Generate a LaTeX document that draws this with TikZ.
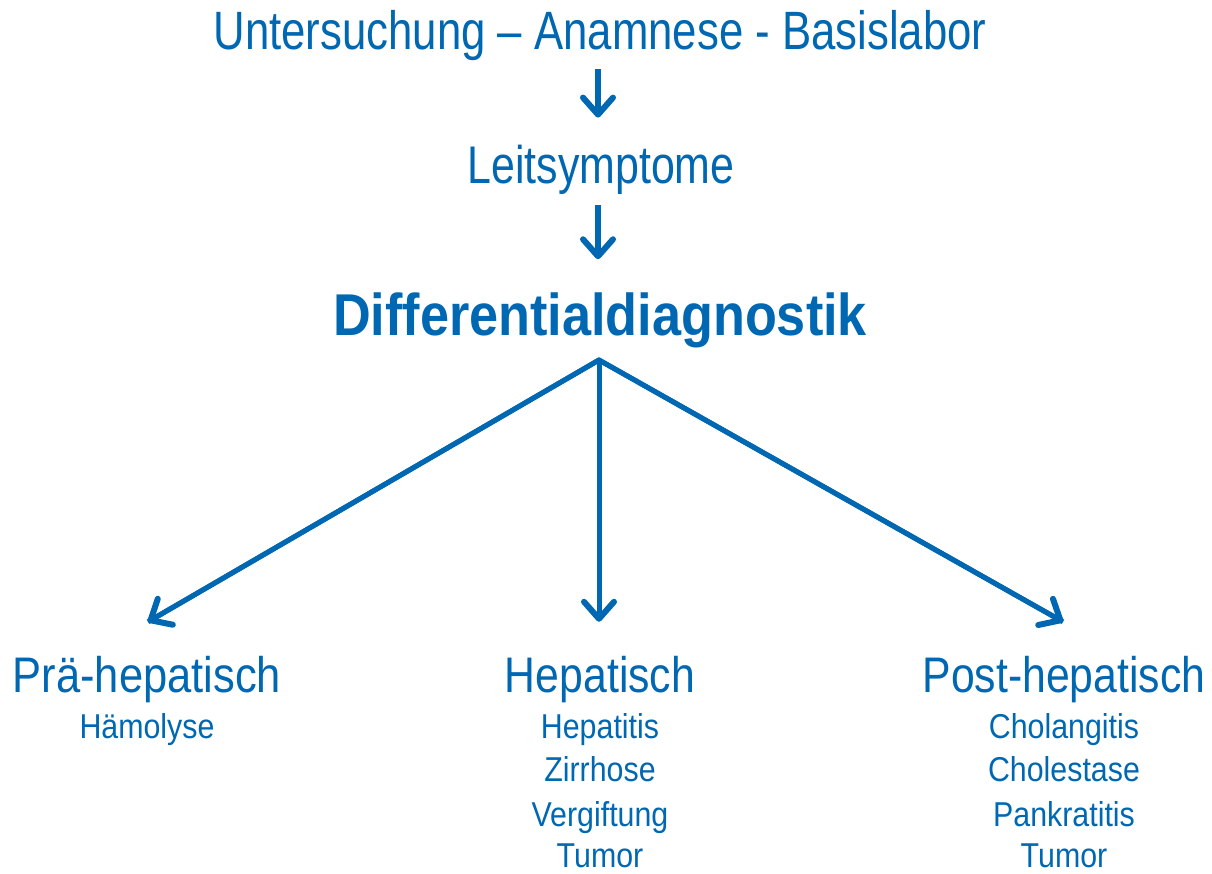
\documentclass[tikz,border=0pt]{standalone}
\usepackage{fontspec}
\usepackage{graphicx}
\setmainfont{Liberation Sans}
\usetikzlibrary{arrows.meta}
\definecolor{dblue}{RGB}{0,104,178}
\newcommand{\sq}[2]{\scalebox{#1}[1]{#2}}
\tikzset{
  lbl/.style={inner sep=0pt, outer sep=0pt, anchor=base, text=dblue},
  arr/.style={draw=dblue, line width=5.5pt, -{Straight Barb[length=17pt,width=30pt,line width=6pt,round]}},
}
\begin{document}
\begin{tikzpicture}[x=1pt,y=-1pt]
\useasboundingbox (0,0) rectangle (1212,873);
\node[lbl, font=\fontsize{54}{60}\selectfont] (title) at (600,49) {\sq{0.81}{Untersuchung – Anamnese - Basislabor}};
\node[lbl, font=\fontsize{53}{60}\selectfont] (leit) at (601,183) {\sq{0.81}{Leitsymptome}};
\node[lbl, font=\fontsize{59}{66}\selectfont\bfseries] (diff) at (600,335) {\sq{0.885}{Differentialdiagnostik}};
\node[lbl, font=\fontsize{50}{56}\selectfont] (pre) at (147,692) {\sq{0.87}{Prä-hepatisch}};
\node[lbl, font=\fontsize{50}{56}\selectfont] (hep) at (600,692) {\sq{0.855}{Hepatisch}};
\node[lbl, font=\fontsize{50}{56}\selectfont] (post) at (1064,692) {\sq{0.855}{Post-hepatisch}};
\node[lbl, font=\fontsize{34.5}{40}\selectfont] (pre1) at (147,738) {\sq{0.88}{Hämolyse}};
\node[lbl, font=\fontsize{34.5}{40}\selectfont] (hep1) at (600,738) {\sq{0.88}{Hepatitis}};
\node[lbl, font=\fontsize{34.5}{40}\selectfont] (hep2) at (600,781) {\sq{0.88}{Zirrhose}};
\node[lbl, font=\fontsize{34.5}{40}\selectfont] (hep3) at (600,826) {\sq{0.88}{Vergiftung}};
\node[lbl, font=\fontsize{34.5}{40}\selectfont] (hep4) at (600,867) {\sq{0.88}{Tumor}};
\node[lbl, font=\fontsize{34.5}{40}\selectfont] (post1) at (1064,738) {\sq{0.88}{Cholangitis}};
\node[lbl, font=\fontsize{34.5}{40}\selectfont] (post2) at (1064,781) {\sq{0.88}{Cholestase}};
\node[lbl, font=\fontsize{34.5}{40}\selectfont] (post3) at (1064,826) {\sq{0.88}{Pankratitis}};
\node[lbl, font=\fontsize{34.5}{40}\selectfont] (post4) at (1064,867) {\sq{0.88}{Tumor}};
\coordinate (apex) at (599,360);
\draw[arr] ([xshift=-2pt,yshift=-9pt]title.south) -- ([xshift=-2pt,yshift=27pt]leit.north -| title.south);
\draw[arr] ([xshift=-2pt,yshift=-11pt]leit.south -| title.south) -- ([xshift=-2pt,yshift=33pt]diff.north -| title.south);
\draw[draw=dblue, line width=5pt, line join=miter] ([xshift=1pt,yshift=34pt]pre.north) -- (apex) -- ([xshift=-1pt,yshift=34pt]post.north);
\draw[arr, line width=5pt] (apex) -- ([xshift=1pt,yshift=34pt]pre.north);
\draw[arr, line width=5pt] (apex) -- ([xshift=-1pt,yshift=34pt]hep.north);
\draw[arr, line width=5pt] (apex) -- ([xshift=-1pt,yshift=34pt]post.north);
\end{tikzpicture}
\end{document}
